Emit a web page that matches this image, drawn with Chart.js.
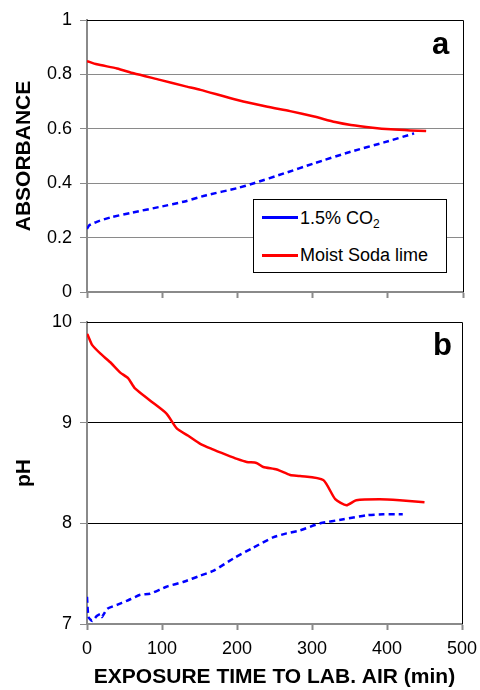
<!DOCTYPE html>
<html lang="en">
<head>
<meta charset="UTF-8">
<title>Absorbance and pH vs exposure time</title>
<script src="https://cdn.jsdelivr.net/npm/chart.js"></script>
<style>
    body { margin: 0; background: #fff; }
    #wrap { position: relative; width: 480px; height: 690px; font-family: "Liberation Sans", Arial, sans-serif; }
    canvas { position: absolute; left: 0; }
    #graficoA { top: 0; }
    #graficoB { top: 300px; }
    .painel { position: absolute; font-weight: bold; font-size: 31px; color: #000; }
    #legenda { position: absolute; left: 253px; top: 199px; width: 194px; height: 74px; box-sizing: border-box;
        border: 1px solid #000; background: #fff; }
    .linha { position: absolute; left: 8px; width: 36px; height: 3px; }
    .texto { position: absolute; left: 46px; font-size: 18px; color: #000; line-height: 20px; }
    .texto sub { font-size: 12px; vertical-align: -4px; line-height: 0; }
</style>
</head>
<body>
<div id="wrap">
    <canvas id="graficoA" width="480" height="300"></canvas>
    <canvas id="graficoB" width="480" height="390"></canvas>
    <div class="painel" style="left:432px; top:26px;">a</div>
    <div class="painel" style="left:433px; top:327px;">b</div>
    <div id="legenda">
        <div class="linha" style="top:16px; background:#0000ff;"></div>
        <div class="texto" style="top:8px;">1.5% CO<sub>2</sub></div>
        <div class="linha" style="top:54px; background:#ff0000;"></div>
        <div class="texto" style="top:45px;">Moist Soda lime</div>
    </div>
</div>
<script>
    // painel a - absorbancia
    const tempoA_co2 = [0, 3, 13, 31, 60, 97, 130, 159, 200, 222, 262, 302, 351, 395, 435];
    const absorb_co2 = [0.232, 0.245, 0.258, 0.274, 0.292, 0.313, 0.333, 0.356, 0.382, 0.40, 0.436, 0.473, 0.516, 0.55, 0.583];
    const tempoA_soda = [0, 13, 40, 62, 97, 130, 151, 200, 240, 270, 302, 330, 351, 380, 404, 430, 451];
    const absorb_soda = [0.849, 0.837, 0.822, 0.804, 0.78, 0.757, 0.743, 0.706, 0.681, 0.665, 0.645, 0.625, 0.614, 0.604, 0.598, 0.594, 0.592];

    // painel b - pH
    const tempoB_co2 = [0, 2, 7, 13, 18, 20, 27, 40, 53, 71, 84, 106, 129, 151, 169, 195, 222, 248, 266, 284, 311, 342, 373, 395, 421];
    const ph_co2 = [7.27, 7.07, 7.03, 7.08, 7.10, 7.07, 7.15, 7.19, 7.23, 7.29, 7.30, 7.37, 7.42, 7.48, 7.53, 7.65, 7.76, 7.86, 7.90, 7.93, 8.00, 8.04, 8.08, 8.09, 8.09];
    const tempoB_soda = [0, 1, 7, 18, 31, 44, 55, 64, 84, 106, 120, 135, 151, 166, 186, 200, 213, 226, 235, 253, 271, 284, 315, 331, 346, 359, 390, 417, 450];
    const ph_soda = [9.88, 9.87, 9.77, 9.685, 9.60, 9.50, 9.44, 9.34, 9.22, 9.09, 8.94, 8.87, 8.79, 8.74, 8.68, 8.64, 8.61, 8.60, 8.56, 8.535, 8.48, 8.47, 8.43, 8.24, 8.18, 8.23, 8.24, 8.23, 8.21];

    const xTicks = [0, 100, 200, 300, 400, 500];
    const yTicksA = [0, 0.2, 0.4, 0.6, 0.8, 1];
    const yTicksB = [7, 8, 9, 10];

    const fonte = "'Liberation Sans', Arial, sans-serif";
    const cinza = '#8a8a8a';
    const azul = '#0000ff';
    const vermelho = '#ff0000';

    function pontos(xs, ys) {
        return xs.map((x, i) => ({ x: x, y: ys[i] }));
    }

    // moldura preta em cima e na direita
    const moldura = {
        id: 'moldura',
        afterDraw(chart) {
            const a = chart.chartArea;
            const ctx = chart.ctx;
            ctx.save();
            ctx.strokeStyle = '#000';
            ctx.lineWidth = 1;
            ctx.beginPath();
            ctx.moveTo(a.left, a.top + 0.5);
            ctx.lineTo(a.right + 0.5, a.top + 0.5);
            ctx.lineTo(a.right + 0.5, a.bottom);
            ctx.stroke();
            ctx.restore();
        }
    };

    function eixoX(mostrarTexto) {
        return {
            type: 'linear',
            min: 0,
            max: 500,
            afterBuildTicks: s => { s.ticks = xTicks.map(v => ({ value: v })); },
            afterFit: s => {
                s.height = mostrarTexto ? 66 : 8;
                s.paddingLeft = 0;
                s.paddingRight = 0;
            },
            border: { color: cinza, width: 2 },
            grid: { drawOnChartArea: false, tickLength: 6, tickColor: cinza, tickWidth: 2 },
            ticks: { display: mostrarTexto, padding: 8, color: '#000', font: { family: fonte, size: 18 } },
            title: {
                display: mostrarTexto,
                text: 'EXPOSURE TIME TO LAB. AIR (min)',
                color: '#000',
                font: { family: fonte, size: 21, weight: 'bold' },
                padding: { top: 0, bottom: 0 }
            }
        };
    }

    function eixoY(titulo, minimo, maximo, marcas, corGrade) {
        return {
            min: minimo,
            max: maximo,
            afterBuildTicks: s => { s.ticks = marcas.map(v => ({ value: v })); },
            afterFit: s => {
                s.width = 87;
                s.paddingTop = 0;
                s.paddingBottom = 0;
            },
            border: { color: cinza, width: 2 },
            grid: { color: corGrade, tickLength: 7, tickColor: cinza, lineWidth: 1 },
            ticks: {
                padding: 8,
                color: '#000',
                font: { family: fonte, size: 18 },
                callback: v => String(Number(v.toFixed(1)))
            },
            title: {
                display: true,
                text: titulo,
                color: '#000',
                font: { family: fonte, size: 21, weight: 'bold' },
                padding: { top: 12, bottom: 0 }
            }
        };
    }

    function serie(label, xs, ys, cor, tracejada) {
        return {
            label: label,
            data: pontos(xs, ys),
            borderColor: cor,
            backgroundColor: cor,
            borderWidth: 2.5,
            borderDash: tracejada ? [6, 4] : [],
            pointRadius: 0,
            fill: false,
            tension: 0.2
        };
    }

    const opcoesBase = {
        responsive: false,
        animation: false,
        plugins: { legend: { display: false }, tooltip: { enabled: false } }
    };

    new Chart(document.getElementById('graficoA'), {
        type: 'line',
        data: {
            datasets: [
                serie('1.5% CO2', tempoA_co2, absorb_co2, azul, true),
                serie('Moist Soda lime', tempoA_soda, absorb_soda, vermelho, false)
            ]
        },
        options: Object.assign({}, opcoesBase, {
            layout: { padding: { top: 20, right: 17, left: 0, bottom: 0 } },
            scales: {
                x: eixoX(false),
                y: eixoY('ABSORBANCE', 0, 1, yTicksA, c => c.tick && c.tick.value === 1 ? '#000' : cinza)
            }
        }),
        plugins: [moldura]
    });

    new Chart(document.getElementById('graficoB'), {
        type: 'line',
        data: {
            datasets: [
                serie('1.5% CO2', tempoB_co2, ph_co2, azul, true),
                serie('Moist Soda lime', tempoB_soda, ph_soda, vermelho, false)
            ]
        },
        options: Object.assign({}, opcoesBase, {
            layout: { padding: { top: 22, right: 18, left: 0, bottom: 0 } },
            scales: {
                x: eixoX(true),
                y: eixoY('pH', 7, 10, yTicksB, c => c.tick && c.tick.value === 7 ? cinza : '#000')
            }
        }),
        plugins: [moldura]
    });
</script>
</body>
</html>
